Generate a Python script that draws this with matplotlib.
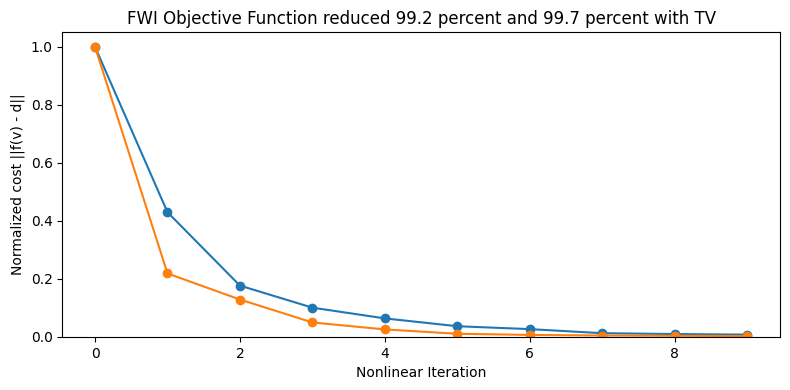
import matplotlib
matplotlib.use("Agg")
import matplotlib.pyplot as plt

iterations = list(range(10))
cost_plain = [1.0, 0.430, 0.177, 0.101, 0.064, 0.037, 0.027, 0.013, 0.010, 0.008]
cost_tv = [1.0, 0.219, 0.129, 0.050, 0.026, 0.011, 0.007, 0.005, 0.004, 0.003]

fig, ax = plt.subplots(figsize=(7.9, 3.9), dpi=100)
ax.plot(iterations, cost_plain, "-o")
ax.plot(iterations, cost_tv, "-o")
ax.set_ylim(0, None)
ax.set_title("FWI Objective Function reduced 99.2 percent and 99.7 percent with TV")
ax.set_xlabel("Nonlinear Iteration")
ax.set_ylabel("Normalized cost ||f(v) - d||")
fig.subplots_adjust(left=0.079, right=0.987, top=0.917, bottom=0.136)
fig.savefig("out.png")
